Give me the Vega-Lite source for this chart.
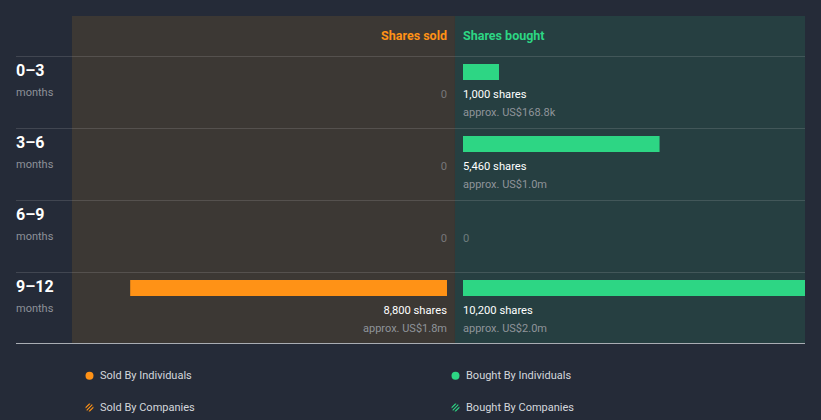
{
  "$schema": "https://vega.github.io/schema/vega-lite/v6.json",
  "width": 789,
  "height": 328,
  "autosize": {"type": "none"},
  "padding": {"left": 16, "right": 16, "top": 16, "bottom": 76},
  "background": "#252b38",
  "config": {
    "view": {"stroke": null},
    "font": "Roboto",
    "axis": {"disable": true}
  },
  "datasets": {
    "insider": [
      {"period": "0–3", "start": 0, "side": "Sold", "category": "Sold By Individuals", "shares": 0, "label": "0", "value": ""},
      {"period": "3–6", "start": 3, "side": "Sold", "category": "Sold By Individuals", "shares": 0, "label": "0", "value": ""},
      {"period": "6–9", "start": 6, "side": "Sold", "category": "Sold By Individuals", "shares": 0, "label": "0", "value": ""},
      {"period": "9–12", "start": 9, "side": "Sold", "category": "Sold By Individuals", "shares": 8800, "label": "8,800 shares", "value": "approx. US$1.8m"},
      {"period": "0–3", "start": 0, "side": "Bought", "category": "Bought By Individuals", "shares": 1000, "label": "1,000 shares", "value": "approx. US$168.8k"},
      {"period": "3–6", "start": 3, "side": "Bought", "category": "Bought By Individuals", "shares": 5460, "label": "5,460 shares", "value": "approx. US$1.0m"},
      {"period": "6–9", "start": 6, "side": "Bought", "category": "Bought By Individuals", "shares": 0, "label": "0", "value": ""},
      {"period": "9–12", "start": 9, "side": "Bought", "category": "Bought By Individuals", "shares": 10200, "label": "10,200 shares", "value": "approx. US$2.0m"}
    ],
    "headers": [
      {"side": "Sold", "title": "Shares sold"},
      {"side": "Bought", "title": "Shares bought"}
    ],
    "baseline": [{"month": 12}]
  },
  "data": {"name": "insider"},
  "resolve": {"scale": {"x": "independent"}},
  "layer": [
    {
      "layer": [
        {
          "data": {"name": "headers"},
          "transform": [{"filter": "datum.side === 'Sold'"}],
          "mark": {"type": "rect", "color": "#3c3834"},
          "encoding": {
            "x": {"datum": -10639, "type": "quantitative", "scale": {"domain": [-12194, 9722], "nice": false, "zero": false, "padding": 0}},
            "x2": {"datum": 0},
            "y": {"datum": -1.6667, "type": "quantitative", "scale": {"domain": [-1.6667, 12], "reverse": true, "nice": false, "zero": false, "padding": 0}},
            "y2": {"datum": 12}
          }
        },
        {
          "data": {"name": "headers"},
          "transform": [{"filter": "datum.side === 'Bought'"}],
          "mark": {"type": "rect", "color": "#263f41"},
          "encoding": {
            "x": {"datum": 0, "type": "quantitative"},
            "x2": {"datum": 9722},
            "y": {"datum": -1.6667, "type": "quantitative"},
            "y2": {"datum": 12}
          }
        },
        {
          "transform": [{"filter": "datum.side === 'Sold'"}],
          "mark": {"type": "rule", "color": "#ffffff", "opacity": 0.13, "strokeWidth": 1, "yOffset": 0.5},
          "encoding": {
            "y": {"field": "start", "type": "quantitative"}
          }
        },
        {
          "data": {"name": "baseline"},
          "mark": {"type": "rule", "color": "#a9adb3", "strokeWidth": 1, "yOffset": -0.5},
          "encoding": {
            "y": {"field": "month", "type": "quantitative"}
          }
        },
        {
          "data": {"name": "headers"},
          "transform": [{"filter": "datum.side === 'Sold'"}],
          "mark": {"type": "text", "align": "right", "baseline": "middle", "xOffset": -8, "yOffset": 1, "fontSize": 12.5, "fontWeight": "bold", "color": "#ff9216"},
          "encoding": {
            "x": {"datum": 0, "type": "quantitative"},
            "y": {"datum": -0.875, "type": "quantitative"},
            "text": {"field": "title"}
          }
        },
        {
          "data": {"name": "headers"},
          "transform": [{"filter": "datum.side === 'Bought'"}],
          "mark": {"type": "text", "align": "left", "baseline": "middle", "xOffset": 8, "yOffset": 1, "fontSize": 12.5, "fontWeight": "bold", "color": "#2dd684"},
          "encoding": {
            "x": {"datum": 0, "type": "quantitative"},
            "y": {"datum": -0.875, "type": "quantitative"},
            "text": {"field": "title"}
          }
        },
        {
          "transform": [{"filter": "datum.side === 'Sold'"}],
          "mark": {"type": "text", "align": "left", "baseline": "middle", "yOffset": 15, "fontSize": 16, "fontWeight": "bold", "color": "#ffffff"},
          "encoding": {
            "x": {"datum": -12194, "type": "quantitative"},
            "y": {"field": "start", "type": "quantitative"},
            "text": {"field": "period"}
          }
        },
        {
          "transform": [{"filter": "datum.side === 'Sold'"}],
          "mark": {"type": "text", "align": "left", "baseline": "middle", "yOffset": 37, "fontSize": 11, "color": "#8d9198", "text": "months"},
          "encoding": {
            "x": {"datum": -12194, "type": "quantitative"},
            "y": {"field": "start", "type": "quantitative"}
          }
        },
        {
          "transform": [{"filter": "datum.side === 'Bought' && datum.shares > 0"}],
          "mark": {"type": "bar", "height": 16, "xOffset": 8, "x2Offset": 8, "yOffset": 16, "clip": true},
          "encoding": {
            "x": {"field": "shares", "type": "quantitative"},
            "x2": {"datum": 0},
            "y": {"field": "start", "type": "quantitative"},
            "color": {
              "field": "category",
              "type": "nominal",
              "scale": {
                "domain": ["Sold By Individuals", "Bought By Individuals", "Sold By Companies", "Bought By Companies"],
                "range": ["#ff9216", "#2dd684", "#ff9216", "#2dd684"]
              },
              "legend": {
                "orient": "none",
                "legendX": 68,
                "legendY": 354,
                "direction": "horizontal",
                "columns": 2,
                "title": null,
                "padding": 0,
                "symbolType": "circle",
                "symbolSize": 64,
                "symbolStrokeWidth": 0,
                "symbolOpacity": 1,
                "labelFont": "Roboto",
                "labelFontSize": 11,
                "labelColor": "#d4d7dc",
                "labelOffset": 5,
                "columnPadding": 255,
                "rowPadding": 20,
                "labelLimit": 300,
                "encode": {
                  "symbols": {
                    "update": {
                      "shape": {"signal": "indexof(datum.value, 'Companies') >= 0 ? 'M-0.8,0.6L0.6,-0.8L0.8,-0.6L-0.6,0.8Z M-0.99,-0.11L-0.11,-0.99L0.26,-0.96L-0.96,0.26Z M0.99,0.11L0.11,0.99L-0.26,0.96L0.96,-0.26Z' : 'circle'"}
                    }
                  }
                }
              }
            }
          }
        },
        {
          "transform": [{"filter": "datum.side === 'Sold'"}],
          "mark": {"type": "text", "align": "right", "baseline": "middle", "xOffset": -8, "yOffset": 39, "fontSize": 11.2},
          "encoding": {
            "x": {"datum": 0, "type": "quantitative"},
            "y": {"field": "start", "type": "quantitative"},
            "text": {"field": "label"},
            "color": {"condition": {"test": "datum.shares > 0", "value": "#ffffff"}, "value": "#77777a"}
          }
        },
        {
          "transform": [{"filter": "datum.side === 'Sold' && datum.shares > 0"}],
          "mark": {"type": "text", "align": "right", "baseline": "middle", "xOffset": -8, "yOffset": 57, "fontSize": 11, "color": "#8f949a"},
          "encoding": {
            "x": {"datum": 0, "type": "quantitative"},
            "y": {"field": "start", "type": "quantitative"},
            "text": {"field": "value"}
          }
        },
        {
          "transform": [{"filter": "datum.side === 'Bought'"}],
          "mark": {"type": "text", "align": "left", "baseline": "middle", "xOffset": 8, "yOffset": 39, "fontSize": 11.2},
          "encoding": {
            "x": {"datum": 0, "type": "quantitative"},
            "y": {"field": "start", "type": "quantitative"},
            "text": {"field": "label"},
            "color": {"condition": {"test": "datum.shares > 0", "value": "#ffffff"}, "value": "#6f7d7e"}
          }
        },
        {
          "transform": [{"filter": "datum.side === 'Bought' && datum.shares > 0"}],
          "mark": {"type": "text", "align": "left", "baseline": "middle", "xOffset": 8, "yOffset": 57, "fontSize": 11, "color": "#8f949a"},
          "encoding": {
            "x": {"datum": 0, "type": "quantitative"},
            "y": {"field": "start", "type": "quantitative"},
            "text": {"field": "value"}
          }
        }
      ]
    },
    {
      "transform": [{"filter": "datum.side === 'Sold' && datum.shares > 0"}],
      "mark": {"type": "bar", "height": 16, "xOffset": -8, "x2Offset": -8, "yOffset": 16, "color": "#ff9216"},
      "encoding": {
        "x": {"field": "shares", "type": "quantitative", "scale": {"domain": [-9722, 12194], "reverse": true, "nice": false, "zero": false, "padding": 0}},
        "x2": {"datum": 0},
        "y": {"field": "start", "type": "quantitative"}
      }
    }
  ]
}
